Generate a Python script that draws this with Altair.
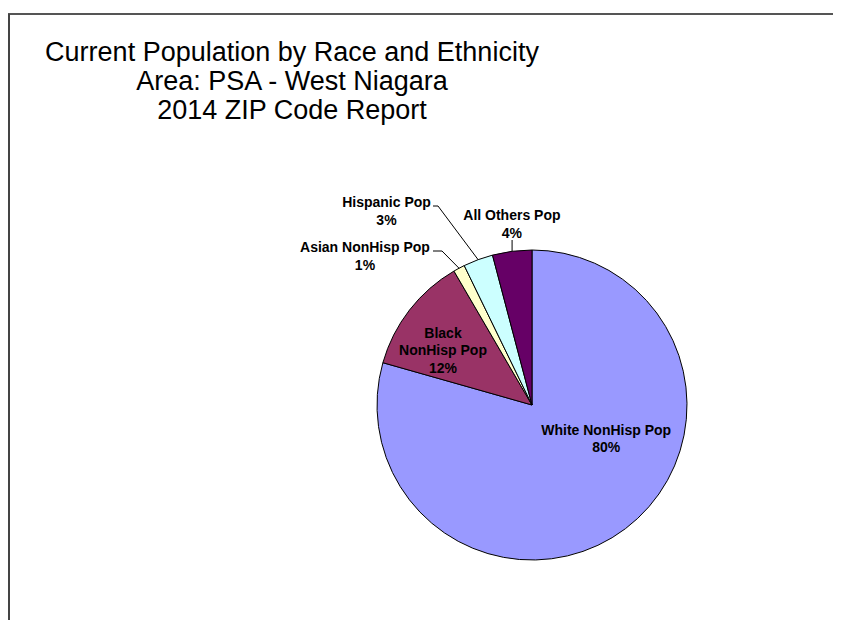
import math
import altair as alt
import pandas as pd

# ---- data ----
categories = ["White NonHisp Pop", "Black NonHisp Pop", "Asian NonHisp Pop", "Hispanic Pop", "All Others Pop"]
display_names = ["White NonHisp Pop", "Black\nNonHisp Pop", "Asian NonHisp Pop", "Hispanic Pop", "All Others Pop"]
shares = [79.4, 12.2, 1.2, 3.1, 4.1]
pct_labels = ["80%", "12%", "1%", "3%", "4%"]
colors = ["#9999FF", "#993366", "#FFFFCC", "#CCFFFF", "#660066"]
title_lines = ["Current Population by Race and Ethnicity", "Area: PSA - West Niagara", "2014 ZIP Code Report"]

df = pd.DataFrame({
    "category": categories,
    "name": display_names,
    "share": shares,
    "pct": pct_labels,
    "order": list(range(len(categories))),
})

W, H = 825, 612
CX, CY = 524, 397          # pie centre (plot coords)
R = 155                    # pie radius
FONT = "Liberation Sans"

theta_scale = alt.Scale(domain=[0, 100])
color_scale = alt.Scale(domain=categories, range=colors)

base = alt.Chart(df).transform_window(
    cum="sum(share)", sort=[alt.SortField("order")], frame=[None, 0]
).transform_calculate(
    mid="datum.cum - datum.share / 2",
    label="datum.name + '\\n' + datum.pct",
)

pie = alt.Chart(df).mark_arc(radius=R, stroke="black", strokeWidth=1).encode(
    theta=alt.Theta("share:Q", stack=True, scale=theta_scale),
    order=alt.Order("order:Q"),
    color=alt.Color("category:N", scale=color_scale, legend=None),
    x=alt.value(CX),
    y=alt.value(CY),
)

# label placement: (radius, dx, dy)
label_style = {
    "White NonHisp Pop": (60, 38, -22),
    "Black NonHisp Pop": (100, -10, -10),
    "Asian NonHisp Pop": (170, -87, -7),
    "Hispanic Pop": (200, -76, -14),
    "All Others Pop": (180, 3, -10),
}

label_layers = []
for cat in categories:
    rr, dx, dy = label_style[cat]
    label_layers.append(
        base.transform_filter(alt.datum.category == cat).mark_text(
            radius=rr, dx=dx, dy=dy, font=FONT, fontSize=14, fontWeight="bold",
            lineBreak="\n", lineHeight=17.5, align="center", baseline="middle", color="black",
        ).encode(
            theta=alt.Theta("mid:Q", scale=theta_scale),
            text="label:N",
            x=alt.value(CX),
            y=alt.value(CY),
        )
    )

# leader lines from slice mid-points on the rim
def rim_point(idx):
    cum = sum(shares[: idx + 1])
    mid = (cum - shares[idx] / 2) / 100 * 2 * math.pi
    return CX + R * math.sin(mid), CY - R * math.cos(mid)

def seg(x1, y1, x2, y2):
    return alt.Chart(df.head(1)).mark_rule(color="black", strokeWidth=1).encode(
        x=alt.value(x1), y=alt.value(y1), x2=alt.value(x2), y2=alt.value(y2)
    )

ax, ay = rim_point(2)
hx, hy = rim_point(3)
ox, oy = rim_point(4)
leaders = [
    seg(ax, ay, 434, 243), seg(434, 243, 425, 243),
    seg(hx, hy, 430, 198), seg(430, 198, 425, 198),
    seg(ox, oy, ox, 232),
]

# frame lines
frame = [
    alt.Chart(df.head(1)).mark_rule(color="#555555", strokeWidth=2).encode(
        x=alt.value(0), x2=alt.value(W), y=alt.value(6)),
    alt.Chart(df.head(1)).mark_rule(color="#444444", strokeWidth=2).encode(
        x=alt.value(1), y=alt.value(6), y2=alt.value(H)),
]

title_layers = []
for i, line in enumerate(title_lines):
    title_layers.append(
        alt.Chart(df.head(1)).mark_text(
            text=line, font=FONT, fontSize=27, align="center", baseline="alphabetic", color="black"
        ).encode(x=alt.value(284), y=alt.value(53 + 29 * i))
    )

chart = alt.layer(
    *frame, pie, *leaders, *label_layers, *title_layers
).properties(
    width=W, height=H, padding=0, autosize=alt.AutoSizeParams(type="none"), background="white"
).configure_view(stroke=None)

chart.save("out.html", embed_options={"renderer": "svg", "actions": False})
